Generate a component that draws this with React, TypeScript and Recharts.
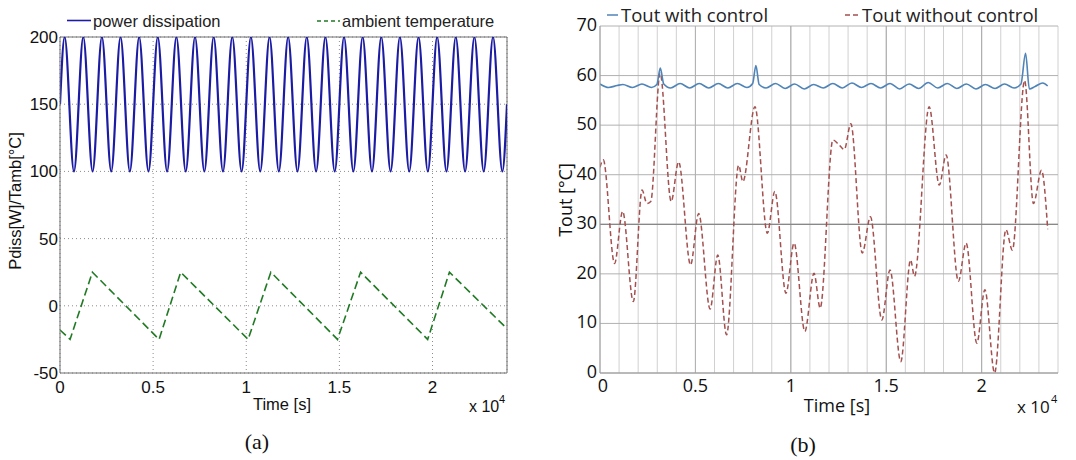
import React from 'react';
import { LineChart, Line, XAxis, YAxis, CartesianGrid, ReferenceLine } from 'recharts';

// ---------- Panel (a) data ----------
const POWER_STEP = 250; // seconds between read samples (quarter period)
const powerValues = [
  150, 200, 150, 100, 150, 200, 150, 100, 150, 200, 150, 100,
  150, 200, 150, 100, 150, 200, 150, 100, 150, 200, 150, 100,
  150, 200, 150, 100, 150, 200, 150, 100, 150, 200, 150, 100,
  150, 200, 150, 100, 150, 200, 150, 100, 150, 200, 150, 100,
  150, 200, 150, 100, 150, 200, 150, 100, 150, 200, 150, 100,
  150, 200, 150, 100, 150, 200, 150, 100, 150, 200, 150, 100,
  150, 200, 150, 100, 150, 200, 150, 100, 150, 200, 150, 100,
  150, 200, 150, 100, 150, 200, 150, 100, 150, 200, 150, 100,
  150,
];
const ambientTimes = [0, 540, 1740, 5320, 6480, 10100, 11320, 14900, 16140, 19740, 20910, 24000];
const ambientValues = [-18, -25, 25, -25, 25, -25, 25, -25, 25, -25, 25, -17];
const leftXTicks = [0, 5000, 10000, 15000, 20000];
const leftYTicks = [-50, 0, 50, 100, 150, 200];

// ---------- Panel (b) data ----------
const ctrlTimes = [
  0, 450, 900, 1200, 1700, 2200, 2700, 2980, 3160, 3340, 3700, 4200, 4700, 5200, 5700, 6200,
  6700, 7200, 7700, 8000, 8170, 8340, 8700, 9200, 9700, 10200, 10700, 11200, 11700, 12200,
  12700, 13200, 13700, 14200, 14700, 15200, 15700, 16200, 16700, 17200, 17700, 18200, 18700,
  19200, 19700, 20200, 20700, 21200, 21700, 22060, 22300, 22500, 22800, 23200, 23460,
];
const ctrlValues = [
  58.3, 57.6, 58.0, 58.2, 57.6, 58.3, 57.6, 58.2, 61.5, 58.3, 57.5, 58.4, 57.5, 58.4, 57.5, 58.4,
  57.5, 58.4, 57.6, 58.4, 62.0, 58.2, 57.5, 58.4, 57.4, 58.3, 57.3, 58.2, 57.5, 58.4,
  57.5, 58.5, 57.6, 58.4, 57.5, 58.4, 57.3, 58.3, 57.4, 58.6, 57.5, 58.4, 57.4,
  58.3, 57.3, 58.2, 57.4, 58.3, 57.5, 58.3, 64.5, 57.3, 57.8, 58.5, 57.9,
];
const noCtrlTimes = [
  0, 170, 763, 1186, 1746, 2203, 2458, 2661, 3150, 3729, 4119, 4746, 5169, 5770, 6171, 6632,
  7265, 7487, 8120, 8769, 9162, 9744, 10171, 10735, 11214, 11538, 12205, 12462, 12803, 13145,
  13744, 14171, 14769, 15197, 15761, 16274, 16479, 17248, 17780, 18136, 18780, 19186, 19746,
  20169, 20678, 21271, 21610, 22250, 22712, 23136, 23460,
];
const noCtrlValues = [
  41.5, 43.0, 22.1, 32.6, 14.4, 36.9, 34.2, 34.6, 60.5, 34.6, 42.6, 21.8, 32.2, 12.9, 23.8, 7.7,
  41.9, 38.6, 53.7, 28.2, 36.6, 16.1, 26.2, 8.4, 20.1, 13.1, 47.0, 46.3, 45.1, 50.3,
  24.2, 31.5, 10.7, 20.8, 2.3, 22.8, 19.5, 53.7, 37.9, 44.0, 18.5, 26.2, 6.0,
  16.8, 0, 28.9, 24.8, 59.0, 34.2, 40.9, 29.0,
];
const rightXTicks = [
  0, 1000, 2000, 3000, 4000, 5000, 6000, 7000, 8000, 9000, 10000, 11000, 12000,
  13000, 14000, 15000, 16000, 17000, 18000, 19000, 20000, 21000, 22000, 23000, 24000,
];
const rightLabelTicks = [0, 5000, 10000, 15000, 20000];
const rightYTicks = [0, 10, 20, 30, 40, 50, 60, 70];

// ---------- built tables ----------
const powerData = powerValues.map((v, i) => ({ t: i * POWER_STEP, v }));
const ambientData = ambientTimes.map((t, i) => ({ t, v: ambientValues[i] }));
const ctrlData = ctrlTimes.map((t, i) => ({ t, v: ctrlValues[i] }));
const noCtrlData = noCtrlTimes.map((t, i) => ({ t, v: noCtrlValues[i] }));

const FONT_A = '"Liberation Sans", Arial, sans-serif';
const FONT_B = '"Open Sans", sans-serif';
const FONT_CAP = '"Liberation Serif", "DejaVu Serif", serif';

const fmt = (t: number) => String(t / 10000);

const LeftXTick = (p: any) => (
  <text x={p.x} y={p.y + 20} textAnchor="middle" fontFamily={FONT_A} fontSize={17} fill="#111">
    {fmt(p.payload.value)}
  </text>
);
const LeftYTick = (p: any) => (
  <text x={p.x - 2} y={p.y + 6} textAnchor="end" fontFamily={FONT_A} fontSize={17} fill="#111">
    {p.payload.value}
  </text>
);
const RightXTick = (p: any) =>
  rightLabelTicks.includes(p.payload.value) ? (
    <text
      x={p.payload.value === 0 ? p.x + 3 : p.x}
      y={p.y + 19}
      textAnchor="middle"
      fontFamily={FONT_B}
      fontSize={18}
      fill="#111"
    >
      {fmt(p.payload.value)}
    </text>
  ) : (
    <g />
  );
const RightYTick = (p: any) => (
  <text x={p.x - 3} y={p.y + 5} textAnchor="end" fontFamily={FONT_B} fontSize={18} fill="#111">
    {p.payload.value}
  </text>
);

export default function App() {
  return (
    <div style={{ position: 'absolute', left: 0, top: 0, width: 1076, height: 460, background: '#fff', overflow: 'hidden' }}>
      <div style={{ position: 'absolute', left: 0, top: 0 }}>
        <LineChart width={540} height={460} margin={{ top: 37, right: 33, bottom: 57, left: 0 }}>
          <CartesianGrid stroke="#8c8c8c" strokeDasharray="1 3" />
          <XAxis
            type="number"
            dataKey="t"
            domain={[0, 24000]}
            ticks={leftXTicks}
            allowDataOverflow
            height={30}
            tickSize={0}
            tickMargin={0}
            tickLine={false}
            axisLine={{ stroke: '#6e6e6e' }}
            tick={LeftXTick}
          />
          <YAxis
            type="number"
            domain={[-50, 200]}
            ticks={leftYTicks}
            allowDataOverflow
            width={60}
            tickSize={0}
            tickMargin={0}
            tickLine={false}
            axisLine={{ stroke: '#6e6e6e' }}
            tick={LeftYTick}
          />
          <ReferenceLine x={24000} stroke="#6e6e6e" />
          <ReferenceLine y={200} stroke="#6e6e6e" />
          <Line data={powerData} dataKey="v" type="natural" stroke="#1b1ba3" strokeWidth={2.2} dot={false} isAnimationActive={false} />
          <Line data={ambientData} dataKey="v" type="linear" stroke="#1f7a23" strokeWidth={1.6} strokeDasharray="8 4" dot={false} isAnimationActive={false} />
        </LineChart>
      </div>
      <div style={{ position: 'absolute', left: 540, top: 0 }}>
        <LineChart width={536} height={460} margin={{ top: 26, right: 18, bottom: 57, left: 0 }}>
          <CartesianGrid stroke="#d0d0d0" horizontal={false} />
          <CartesianGrid stroke="#b2b2b2" vertical={false} />
          <XAxis
            type="number"
            dataKey="t"
            domain={[0, 24000]}
            ticks={rightXTicks}
            interval={0}
            allowDataOverflow
            height={30}
            tickSize={0}
            tickMargin={0}
            tickLine={false}
            axisLine={{ stroke: '#9a9a9a' }}
            tick={RightXTick}
          />
          <YAxis
            type="number"
            domain={[0, 70]}
            ticks={rightYTicks}
            allowDataOverflow
            width={60}
            tickSize={0}
            tickMargin={0}
            tickLine={false}
            axisLine={{ stroke: '#9a9a9a' }}
            tick={RightYTick}
          />
          <ReferenceLine x={5000} stroke="#b0b0b0" />
          <ReferenceLine x={10000} stroke="#a8a8a8" />
          <ReferenceLine x={15000} stroke="#a8a8a8" />
          <ReferenceLine x={20000} stroke="#a8a8a8" />
          <ReferenceLine y={30} stroke="#888888" strokeWidth={1.3} />
          <Line data={noCtrlData} dataKey="v" type="monotone" stroke="#a3504f" strokeWidth={1.5} strokeDasharray="5 3" dot={false} isAnimationActive={false} />
          <Line data={ctrlData} dataKey="v" type="monotone" stroke="#4f84b8" strokeWidth={1.6} dot={false} isAnimationActive={false} />
        </LineChart>
      </div>
      <svg width={1076} height={460} style={{ position: 'absolute', left: 0, top: 0, pointerEvents: 'none' }}>
        {/* panel (a) legend */}
        <line x1={67} y1={20.5} x2={91} y2={20.5} stroke="#1b1ba3" strokeWidth={1.6} />
        <text x={93} y={26.5} fontFamily={FONT_A} fontSize={16.5} fill="#222">power dissipation</text>
        <line x1={317} y1={21} x2={340} y2={21} stroke="#1f7a23" strokeWidth={1.6} strokeDasharray="4 3" />
        <text x={342} y={26.5} fontFamily={FONT_A} fontSize={16.5} fill="#222">ambient temperature</text>
        {/* panel (a) labels */}
        <text x={15} y={201} transform="rotate(-90 15 201)" textAnchor="middle" dominantBaseline="central" fontFamily={FONT_A} fontSize={16.5} fill="#111">Pdiss[W]/Tamb[°C]</text>
        <text x={282} y={410} textAnchor="middle" fontFamily={FONT_A} fontSize={16.5} fill="#111">Time [s]</text>
        <text x={469} y={412} fontFamily={FONT_A} fontSize={16} fill="#111">x 10</text>
        <text x={499} y={403} fontFamily={FONT_A} fontSize={11} fill="#111">4</text>
        <text x={257} y={449} textAnchor="middle" fontFamily={FONT_CAP} fontSize={22} fill="#111">(a)</text>
        {/* panel (b) legend */}
        <line x1={607} y1={15} x2={618} y2={15} stroke="#4f84b8" strokeWidth={1.5} />
        <text x={621} y={21.5} fontFamily={FONT_B} fontSize={18.5} fill="#222">Tout with control</text>
        <line x1={845} y1={15} x2={860} y2={15} stroke="#a3504f" strokeWidth={1.5} strokeDasharray="5 3" />
        <text x={862} y={21.5} fontFamily={FONT_B} fontSize={18.5} fill="#222">Tout without control</text>
        {/* panel (b) labels */}
        <text x={565} y={200} transform="rotate(-90 565 200)" textAnchor="middle" dominantBaseline="central" fontFamily={FONT_B} fontSize={18} fill="#111">Tout [°C]</text>
        <text x={837} y={412} textAnchor="middle" fontFamily={FONT_B} fontSize={18} fill="#111">Time [s]</text>
        <text x={1017} y={413} fontFamily={FONT_B} fontSize={17} fill="#111">x 10</text>
        <text x={1051} y={403} fontFamily={FONT_B} fontSize={11} fill="#111">4</text>
        <text x={803} y={452} textAnchor="middle" fontFamily={FONT_CAP} fontSize={22} fill="#111">(b)</text>
      </svg>
    </div>
  );
}
